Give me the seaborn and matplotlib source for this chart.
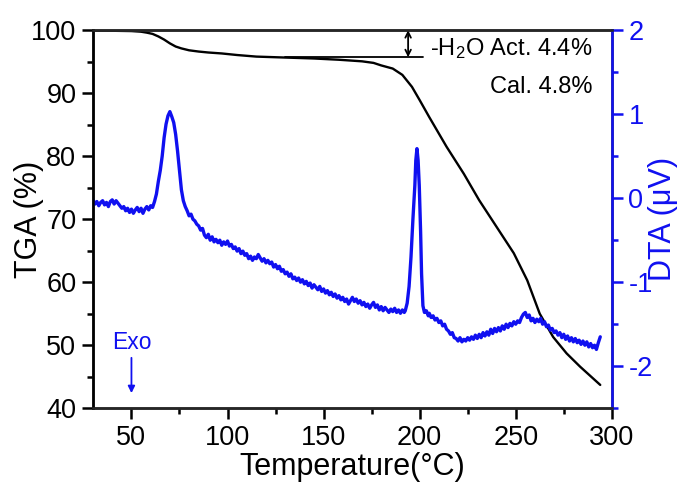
import numpy as np
import pandas as pd
import matplotlib
matplotlib.use('Agg')
import matplotlib.pyplot as plt
import seaborn as sns

# TGA curve (weight %, left axis)
tga_temp = [30, 40, 50, 55, 58, 61, 64, 67, 70, 73, 76, 80, 85, 90, 97, 105, 115,
            130, 145, 158, 170, 176, 180, 186, 191, 196, 200, 205, 214, 223, 231,
            240, 249, 256, 262.5, 269.5, 276.5, 283.5, 294]
tga_val = [99.95, 99.9, 99.85, 99.75, 99.6, 99.4, 99.0, 98.5, 97.9, 97.4, 97.1,
           96.8, 96.6, 96.45, 96.3, 96.05, 95.8, 95.65, 95.5, 95.3, 95.05, 94.8,
           94.4, 93.9, 92.9, 91.0, 88.9, 86.2, 81.5, 77.2, 73.0, 68.8, 64.6, 60.3,
           55.0, 51.3, 48.7, 46.6, 43.7]

# DTA curve (uV, right axis)
dta_temp = (list(range(30, 193))
            + [192.5, 193.5, 194.5, 195.5, 196.5, 197.5, 198.0, 198.6, 199.2,
               199.8, 200.5, 201.0, 201.7, 202.5, 203.5, 204.5]
            + list(range(205, 295)))
dta_val = [
    -0.02, -0.07, -0.04, -0.09, -0.05, -0.03, -0.08, -0.05, -0.10, -0.04,   # 30-39
    -0.02, -0.07, -0.03, -0.06, -0.09, -0.12, -0.10, -0.15, -0.12, -0.17,   # 40-49
    -0.13, -0.18, -0.14, -0.11, -0.16, -0.12, -0.18, -0.13, -0.10, -0.14,   # 50-59
    -0.09, -0.11, -0.04, 0.05, 0.20, 0.33, 0.50, 0.72, 0.88, 0.98,          # 60-69
    1.03, 0.97, 0.90, 0.76, 0.56, 0.33, 0.10, -0.03, -0.10, -0.15,          # 70-79
    -0.21, -0.19, -0.25, -0.27, -0.31, -0.33, -0.38, -0.36, -0.44, -0.47,   # 80-89
    -0.43, -0.50, -0.46, -0.52, -0.49, -0.53, -0.50, -0.56, -0.52, -0.55,   # 90-99
    -0.51, -0.57, -0.55, -0.60, -0.58, -0.63, -0.60, -0.66, -0.63, -0.68,   # 100-109
    -0.66, -0.72, -0.69, -0.74, -0.70, -0.72, -0.67, -0.71, -0.75, -0.72,   # 110-119
    -0.77, -0.74, -0.78, -0.76, -0.82, -0.79, -0.84, -0.81, -0.87, -0.85,   # 120-129
    -0.90, -0.88, -0.93, -0.90, -0.96, -0.94, -0.98, -0.95, -1.00, -0.97,   # 130-139
    -1.02, -0.99, -1.04, -1.01, -1.07, -1.03, -1.06, -1.09, -1.05, -1.11,   # 140-149
    -1.08, -1.13, -1.10, -1.15, -1.12, -1.17, -1.14, -1.19, -1.16, -1.21,   # 150-159
    -1.18, -1.23, -1.20, -1.26, -1.22, -1.18, -1.23, -1.20, -1.25, -1.22,   # 160-169
    -1.27, -1.24, -1.29, -1.26, -1.31, -1.27, -1.24, -1.30, -1.27, -1.33,   # 170-179
    -1.29, -1.34, -1.30, -1.33, -1.36, -1.32, -1.35, -1.31, -1.36, -1.33,   # 180-189
    -1.37, -1.33, -1.36,                                                    # 190-192
    -1.34, -1.25, -1.05, -0.70, -0.25, 0.15, 0.45, 0.59, 0.45,              # sharp peak
    0.15, -0.40, -0.90, -1.28, -1.36, -1.34, -1.40,
    -1.37, -1.42, -1.40, -1.45, -1.43, -1.48, -1.46, -1.52, -1.50, -1.56,   # 205-214
    -1.58, -1.62, -1.60, -1.66, -1.67, -1.70, -1.66, -1.71, -1.68, -1.70,   # 215-224
    -1.66, -1.69, -1.65, -1.68, -1.63, -1.67, -1.62, -1.66, -1.60, -1.64,   # 225-234
    -1.59, -1.63, -1.56, -1.61, -1.55, -1.59, -1.54, -1.58, -1.52, -1.56,   # 235-244
    -1.50, -1.54, -1.49, -1.52, -1.47, -1.50, -1.46, -1.48, -1.42, -1.38,   # 245-254
    -1.36, -1.42, -1.39, -1.46, -1.43, -1.48, -1.44, -1.47, -1.43, -1.50,   # 255-264
    -1.47, -1.53, -1.51, -1.57, -1.55, -1.60, -1.58, -1.63, -1.60, -1.66,   # 265-274
    -1.62, -1.68, -1.64, -1.70, -1.66, -1.71, -1.67, -1.72, -1.69, -1.74,   # 275-284
    -1.70, -1.75, -1.71, -1.77, -1.73, -1.78, -1.75, -1.80, -1.72, -1.65,   # 285-294
]

tga_df = pd.DataFrame({'T': tga_temp, 'TGA': tga_val})
dta_df = pd.DataFrame({'T': dta_temp, 'DTA': dta_val})

sns.set_style('ticks')
plt.rcParams['font.family'] = ['Liberation Sans', 'DejaVu Sans']
plt.rcParams['mathtext.fontset'] = 'custom'
plt.rcParams['mathtext.rm'] = 'Liberation Sans'
plt.rcParams['mathtext.it'] = 'Liberation Sans'
plt.rcParams['axes.unicode_minus'] = False
plt.rcParams['text.color'] = 'black'
plt.rcParams['axes.labelcolor'] = 'black'
plt.rcParams['xtick.color'] = 'black'
plt.rcParams['ytick.color'] = 'black'

blue = '#1010f0'

fig = plt.figure(figsize=(6.79, 4.86), dpi=100)
ax = fig.add_axes([0.137, 0.16, 0.764, 0.778])
ax2 = ax.twinx()

sns.lineplot(data=tga_df, x='T', y='TGA', ax=ax, color='black', lw=1.7,
             sort=False, estimator=None)
sns.lineplot(data=dta_df, x='T', y='DTA', ax=ax2, color=blue, lw=2.4,
             sort=False, estimator=None)

ax.set_xlim(30, 300)
ax.set_ylim(40, 100)
ax2.set_ylim(-2.5, 2)

ax.set_xticks([50, 100, 150, 200, 250, 300])
ax.set_xticks(np.arange(75, 300, 50), minor=True)
ax.set_yticks(np.arange(40, 101, 10))
ax.set_yticks(np.arange(45, 100, 10), minor=True)
ax2.set_yticks([-2, -1, 0, 1, 2])
ax2.set_yticks([-2.5, -1.5, -0.5, 0.5, 1.5], minor=True)

for a in (ax, ax2):
    for s in a.spines.values():
        s.set_linewidth(1.8)
ax2.spines['right'].set_color(blue)
ax2.spines['left'].set_color('black')

ax.tick_params(axis='both', which='major', direction='out', length=8, width=1.8,
               labelsize=19.5, pad=4)
ax.tick_params(axis='both', which='minor', direction='out', length=4.5, width=1.8)
ax2.tick_params(axis='y', which='major', direction='out', length=8, width=1.8,
                labelsize=19.5, colors=blue, pad=4)
ax2.tick_params(axis='y', which='minor', direction='out', length=4.5, width=1.8,
                colors=blue)

ax.set_xlabel('Temperature(°C)', fontsize=22, labelpad=1)
ax.set_ylabel('TGA (%)', fontsize=22)
ax2.set_ylabel('DTA (μV)', fontsize=22, color=blue)
ax.yaxis.set_label_coords(-0.095, 0.5)
ax2.yaxis.set_label_coords(1.07, 0.5)

# water loss annotation
ax.plot([130, 202], [95.7, 95.7], color='black', lw=1.3)
ax.annotate('', xy=(194, 100), xytext=(194, 95.7),
            arrowprops=dict(arrowstyle='<->', color='black', lw=1.3,
                            shrinkA=0, shrinkB=0))
ax.text(290, 97.1, '-H$_2$O Act. 4.4%', fontsize=17, ha='right', va='center')
ax.text(290, 91.0, 'Cal. 4.8%', fontsize=17, ha='right', va='center')

# exotherm direction
ax2.text(50, -1.72, 'Exo', fontsize=16.5, color=blue, ha='center', va='center')
ax2.annotate('', xy=(50, -2.32), xytext=(50, -1.90),
             arrowprops=dict(arrowstyle='-|>', color=blue, lw=1.3,
                             mutation_scale=10, shrinkA=0, shrinkB=0))

fig.savefig('out.png', dpi=100)
